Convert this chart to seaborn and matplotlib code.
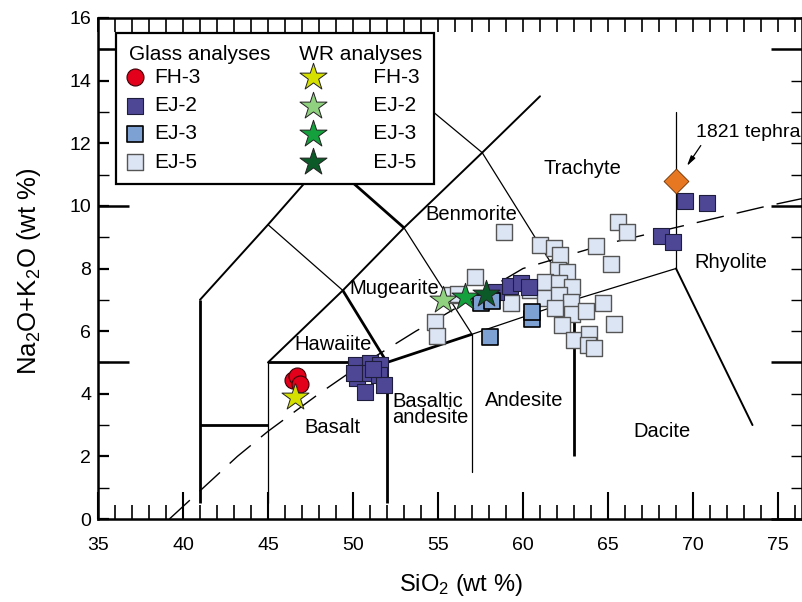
import matplotlib
matplotlib.use("Agg")
import matplotlib.pyplot as plt
import seaborn as sns
from matplotlib.ticker import MultipleLocator

# Glass analyses
fh3_x = [46.45, 46.7, 46.9]
fh3_y = [4.45, 4.57, 4.32]
ej2_x = [50.15, 51.0, 51.6, 50.25, 50.8, 51.5, 51.8, 50.7, 50.05, 51.2,
         58.4, 59.25, 59.9, 60.35, 68.1, 68.8, 69.5, 70.85]
ej2_y = [4.92, 4.97, 4.92, 4.49, 4.65, 4.6, 4.28, 4.07, 4.65, 4.8,
         7.25, 7.45, 7.55, 7.4, 9.04, 8.86, 10.16, 10.1]
ej3_x = [57.5, 58.2, 58.05, 60.5, 60.5]
ej3_y = [6.9, 6.95, 5.8, 6.4, 6.62]
ej5_x = [54.85, 54.95, 55.8, 56.2, 57.2, 58.9, 59.3, 60.4, 61.0, 61.8, 62.2,
         64.3, 65.6, 66.1, 65.2, 62.05, 62.6, 61.3, 62.1, 62.9, 61.3, 62.1,
         62.8, 61.9, 62.9, 63.7, 64.7, 65.35, 62.3, 63.0, 63.9, 63.8, 64.2]
ej5_y = [6.3, 5.83, 7.15, 7.2, 7.74, 9.18, 6.89, 7.32, 8.75, 8.65, 8.43,
         8.72, 9.5, 9.18, 8.15, 7.96, 7.9, 7.58, 7.55, 7.42, 7.05, 7.16,
         6.94, 6.73, 6.55, 6.65, 6.89, 6.22, 6.2, 5.72, 5.9, 5.56, 5.47]

# Whole-rock analyses
wr_names = ["FH-3", "EJ-2", "EJ-3", "EJ-5"]
wr_x = [46.6, 55.3, 56.6, 57.8]
wr_y = [3.9, 7.0, 7.1, 7.2]
wr_colors = ["#d5e000", "#8fd17f", "#14a03c", "#0b5a28"]

# 1821 tephra
tephra_x = [69.0]
tephra_y = [10.8]

# TAS field boundaries (x list, y list)
thick_lines = [
    ([41, 41], [0.5, 7]),
    ([41, 45], [3, 3]),
    ([45, 52], [5, 5]),
    ([52, 52], [0.5, 5]),
    ([52, 57], [5, 5.9]),
    ([63, 63], [2, 7]),
    ([49.4, 52], [7.3, 5]),
    ([48.4, 53], [11.5, 9.3]),
]
medium_lines = [
    ([41, 45, 48.4, 52.5], [7, 9.4, 11.5, 14]),
    ([45, 49.4, 53, 57.6, 61], [5, 7.3, 9.3, 11.7, 13.5]),
    ([69, 73.5], [8, 3]),
]
thin_lines = [
    ([45, 45], [0.5, 5]),
    ([57, 57], [1.5, 5.9]),
    ([57, 63, 69], [5.9, 7, 8]),
    ([69, 69], [8, 13]),
    ([45, 49.4], [9.4, 7.3]),
    ([53, 57], [9.3, 5.9]),
    ([52.5, 57.6, 63], [14, 11.7, 7]),
]
# alkaline / subalkaline divide
div_x = [39.2, 40, 43.2, 45, 48, 50, 53.7, 55, 60, 65, 74.4, 77]
div_y = [0, 0.4, 2, 2.8, 4, 4.75, 6, 6.4, 8, 8.8, 10, 10.3]

field_names = ["Trachyte", "Benmorite", "Mugearite", "Hawaiite", "Basalt",
               "Andesite", "Dacite", "Rhyolite"]
field_x = [63.5, 56.95, 52.45, 48.8, 48.8, 60.1, 68.2, 72.25]
field_y = [11.2, 9.74, 7.37, 5.56, 2.92, 3.78, 2.78, 8.19]

sns.set_style("ticks")
plt.rcParams["font.family"] = ["Liberation Sans", "DejaVu Sans"]
plt.rcParams["mathtext.fontset"] = "custom"
plt.rcParams["mathtext.rm"] = "Liberation Sans"
plt.rcParams["mathtext.it"] = "Liberation Sans:italic"
for key in ["text.color", "axes.labelcolor", "xtick.color", "ytick.color"]:
    plt.rcParams[key] = "black"

fig = plt.figure(figsize=(8.03, 6.02), dpi=100)
ax = fig.add_axes([98 / 803, 83 / 602, 704 / 803, 501 / 602])

for xs, ys in thick_lines:
    ax.plot(xs, ys, color="black", lw=2.0, solid_capstyle="butt", zorder=1)
for xs, ys in medium_lines:
    ax.plot(xs, ys, color="black", lw=1.4, zorder=1)
for xs, ys in thin_lines:
    ax.plot(xs, ys, color="black", lw=0.9, zorder=1)
ax.plot(div_x, div_y, color="black", lw=1.0, dashes=(20, 9.5), zorder=1)

# glass data
sns.scatterplot(x=ej5_x, y=ej5_y, marker="s", s=135, color="#dce5f3",
                edgecolor="#555555", linewidth=1.0, label="g EJ-5", ax=ax, zorder=3)
sns.scatterplot(x=ej2_x, y=ej2_y, marker="s", s=135, color="#4d4796",
                edgecolor="#1e1e3c", linewidth=0.8, label="g EJ-2", ax=ax, zorder=4)
sns.scatterplot(x=ej3_x, y=ej3_y, marker="s", s=135, color="#7ea1d3",
                edgecolor="black", linewidth=1.2, label="g EJ-3", ax=ax, zorder=4)
sns.scatterplot(x=fh3_x, y=fh3_y, marker="o", s=150, color="#e2001a",
                edgecolor="#3a0008", linewidth=0.8, label="g FH-3", ax=ax, zorder=5)
for name, x, y, c in zip(wr_names, wr_x, wr_y, wr_colors):
    sns.scatterplot(x=[x], y=[y], marker="*", s=420, color=c, edgecolor="#222222",
                    linewidth=0.7, label="w " + name, ax=ax, zorder=6)
sns.scatterplot(x=tephra_x, y=tephra_y, marker="D", s=160, color="#e87722",
                edgecolor="#6b3000", linewidth=0.6, legend=False, ax=ax, zorder=6)

for name, x, y in zip(field_names, field_x, field_y):
    ax.text(x, y, name, ha="center", va="center", fontsize=14.5, zorder=2)
ax.text(52.3, 3.5, "Basaltic\nandesite", ha="left", va="center", fontsize=14.5,
        linespacing=0.85, zorder=2)
ax.text(70.15, 12.33, "1821 tephra", ha="left", va="center", fontsize=14, zorder=2)
ax.annotate("", xy=(69.55, 11.2), xytext=(70.55, 12.0),
            arrowprops=dict(arrowstyle="-|>,head_length=0.6,head_width=0.15",
                            color="black", lw=0.9))

ax.set_xlim(35, 35 + 704 / 17)
ax.set_ylim(0, 16)
ax.xaxis.set_major_locator(MultipleLocator(5))
ax.xaxis.set_minor_locator(MultipleLocator(1))
ax.yaxis.set_major_locator(MultipleLocator(2))
ax.yaxis.set_minor_locator(MultipleLocator(1))
ax.tick_params(axis="x", which="major", direction="in", length=19.5, width=1.5,
               pad=13, labelsize=14, color="black")
ax.tick_params(axis="x", which="minor", direction="in", length=10, width=1.2)
ax.tick_params(axis="y", which="major", direction="in", length=8, width=1.6,
               pad=5, labelsize=14)
ax.tick_params(axis="y", which="minor", direction="in", length=8, width=1.0)
for sp in ax.spines.values():
    sp.set_linewidth(1.8)
    sp.set_color("black")

top = ax.secondary_xaxis("top")
top.xaxis.set_major_locator(MultipleLocator(1))
top.tick_params(direction="in", length=10, width=1.2, labeltop=False)
right = ax.secondary_yaxis("right")
right.yaxis.set_major_locator(MultipleLocator(5))
right.yaxis.set_minor_locator(MultipleLocator(1))
right.tick_params(which="major", direction="in", length=22, width=1.8, labelright=False)
right.tick_params(which="minor", direction="in", length=8, width=1.0)
left = ax.secondary_yaxis("left")
left.set_yticks([5, 10, 15])
left.tick_params(direction="in", length=22, width=1.8, labelleft=False)

ax.set_xlabel("SiO$_2$ (wt %)", fontsize=17)
ax.set_ylabel("Na$_2$O+K$_2$O (wt %)", fontsize=18.5)
ax.xaxis.set_label_coords(0.516, -0.105)
ax.yaxis.set_label_coords(-0.078, 0.495)

h, l = ax.get_legend_handles_labels()
d = dict(zip(l, h))
order = ["g FH-3", "g EJ-2", "g EJ-3", "g EJ-5", "w FH-3", "w EJ-2", "w EJ-3", "w EJ-5"]
names = ["FH-3", "EJ-2", "EJ-3", "EJ-5"] + [" " * 7 + n for n in wr_names]
leg = ax.legend([d[k] for k in order], names, ncol=2,
                title="Glass analyses     WR analyses", alignment="left",
                loc="upper left", bbox_to_anchor=(0.0256, 0.9707), borderaxespad=0,
                frameon=True, fancybox=False, edgecolor="black", framealpha=1,
                fontsize=15, title_fontsize=15, handlelength=0.6, handletextpad=0.65,
                columnspacing=5.1, labelspacing=0.45, borderpad=0.6)
leg.get_frame().set_linewidth(1.6)
leg.set_zorder(10)
leg._legend_box.sep = 2.5

fig.savefig("out.png", dpi=100)
